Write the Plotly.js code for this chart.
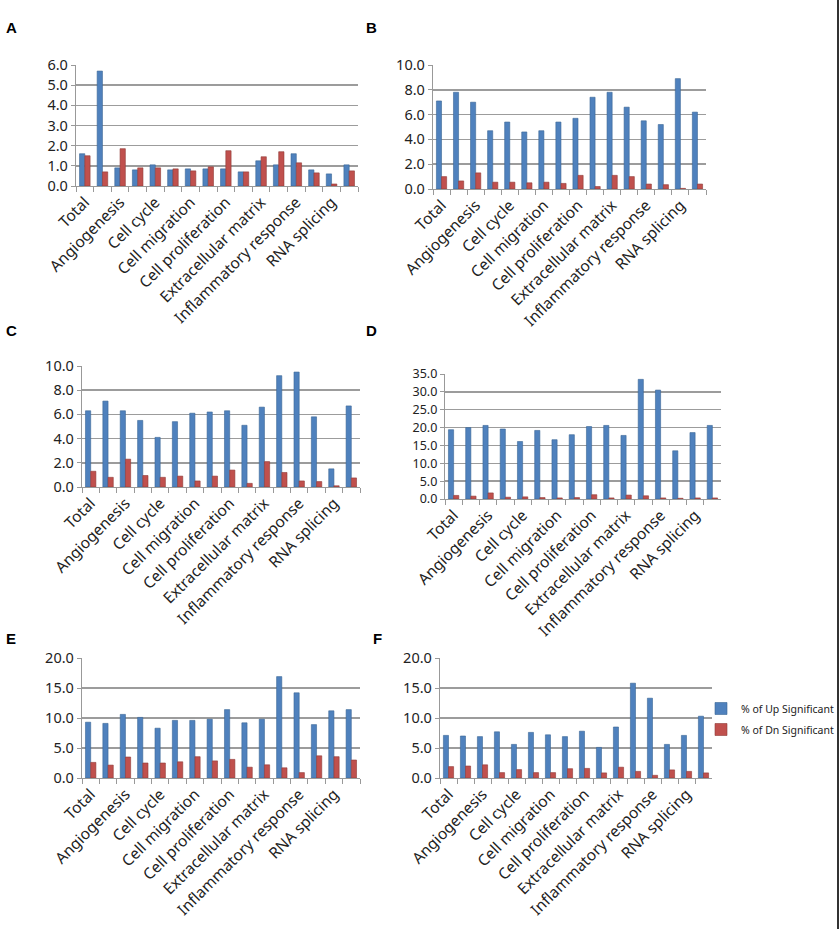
<!DOCTYPE html>
<html>
<head>
<meta charset="utf-8">
<script src="https://cdn.plot.ly/plotly-3.0.1.min.js"></script>
<style>html,body{margin:0;padding:0;background:#fff;overflow:hidden;}#chart{width:840px;height:929px;}</style>
</head>
<body>
<div id="chart"></div>
<script>
// categories (labels shown on every other category, as in the original)
const categories = ["Total","Aging","Angiogenesis","Apoptosis","Cell cycle","Cell differentiation",
  "Cell migration","Cell motility","Cell proliferation","Development","Extracellular matrix",
  "Immune response","Inflammatory response","Metabolism","RNA splicing","Transcription"];
const panelLetters = ["A","B","C","D","E","F"];
const upName = "% of Up Significant";
const dnName = "% of Dn Significant";

const upA = [1.6,5.7,0.9,0.8,1.05,0.8,0.85,0.85,0.85,0.7,1.25,1.05,1.6,0.8,0.6,1.05];
const dnA = [1.5,0.7,1.85,0.9,0.9,0.85,0.75,0.95,1.75,0.7,1.45,1.7,1.15,0.65,0.1,0.75];
const upB = [7.1,7.8,7.0,4.7,5.4,4.6,4.7,5.4,5.7,7.4,7.8,6.6,5.5,5.2,8.9,6.2];
const dnB = [1.0,0.65,1.3,0.55,0.55,0.5,0.55,0.45,1.1,0.2,1.1,1.0,0.4,0.35,0.05,0.4];
const upC = [6.3,7.1,6.3,5.5,4.1,5.4,6.1,6.2,6.3,5.1,6.6,9.2,9.5,5.8,1.5,6.7];
const dnC = [1.3,0.8,2.3,0.95,0.8,0.9,0.5,0.9,1.4,0.3,2.1,1.2,0.5,0.45,0.1,0.75];
const upD = [19.4,20.0,20.6,19.6,16.1,19.2,16.6,18.0,20.3,20.6,17.8,33.5,30.5,13.5,18.6,20.6];
const dnD = [1.0,0.8,1.7,0.5,0.6,0.4,0.3,0.4,1.2,0.3,1.1,0.9,0.3,0.2,0.3,0.3];
const upE = [9.3,9.1,10.6,10.1,8.3,9.6,9.6,9.8,11.4,9.2,9.8,16.9,14.2,8.9,11.2,11.4];
const dnE = [2.6,2.15,3.5,2.5,2.5,2.7,3.55,2.85,3.1,1.8,2.2,1.7,0.9,3.7,3.55,3.0];
const upF = [7.1,7.0,6.9,7.7,5.6,7.6,7.2,6.9,7.8,5.1,8.5,15.8,13.3,5.6,7.1,10.3];
const dnF = [1.9,2.0,2.2,0.9,1.4,0.9,0.9,1.55,1.6,0.85,1.8,1.1,0.45,1.35,1.1,0.85];

const ups = [upA,upB,upC,upD,upE,upF];
const dns = [dnA,dnB,dnC,dnD,dnE,dnF];
const yMax = [6,10,10,35,20,20];
const yStep = [1,2,2,5,5,5];

const W = 840, H = 929;
// plot boxes in pixels: [left, right, top, bottom]
const boxes = [
  [76,358,65,186],
  [433,706,65,189],
  [82,360,366,487],
  [445,721,374,499],
  [82,360,658,778],
  [440,712,658,778]
];
const yFont = [14.5,14.5,14.5,12.5,14.5,14.5];
const letterPos = [[11,28],[371,28],[11,330],[371,330],[11,638],[377,638]];

const blue = "#4F81BD", red = "#C0504D";
const data = [];
const layout = {
  width: W, height: H,
  margin: {l:0,r:0,t:0,b:0,autoexpand:false},
  paper_bgcolor: "#fff", plot_bgcolor: "#fff",
  barmode: "group", bargap: 0.4, bargroupgap: 0.0,
  font: {family: "Noto Sans, DejaVu Sans, sans-serif", color: "#222"},
  showlegend: true,
  legend: {x: 701/W, y: 1-694/H, xanchor: "left", yanchor: "top",
    font: {size: 10.5, family: "Noto Sans, sans-serif", color: "#222"},
    itemwidth: 30, tracegroupgap: 2, bgcolor: "rgba(0,0,0,0)", borderwidth: 0},
  annotations: [],
  shapes: [{type:"line", xref:"paper", yref:"paper", x0:838/W, x1:838/W, y0:0, y1:1,
    line:{color:"#333", width:2}}]
};

const ticktext = categories.map((c,i) => i % 2 === 0 ? c : "");

for (let p = 0; p < 6; p++) {
  const xs = p === 0 ? "x" : "x" + (p+1);
  const ys = p === 0 ? "y" : "y" + (p+1);
  const xk = p === 0 ? "xaxis" : "xaxis" + (p+1);
  const yk = p === 0 ? "yaxis" : "yaxis" + (p+1);
  const b = boxes[p];
  data.push({type:"bar", x: categories, y: ups[p], xaxis: xs, yaxis: ys, name: upName,
    marker:{color: blue, line:{color:"#3A6796", width:0.6}}, showlegend: p === 5, legendgroup:"up", hoverinfo:"y"});
  data.push({type:"bar", x: categories, y: dns[p], xaxis: xs, yaxis: ys, name: dnName,
    marker:{color: red, line:{color:"#8E3A38", width:0.6}}, showlegend: p === 5, legendgroup:"dn", hoverinfo:"y"});
  layout[xk] = {
    domain: [b[0]/W, b[1]/W], anchor: ys, type: "category",
    categoryorder: "array", categoryarray: categories,
    tickmode: "array", tickvals: categories, ticktext: ticktext,
    tickson: "boundaries", ticks: "outside", ticklen: 5, tickcolor: "#999",
    tickangle: -45, tickfont: {size: 15.5, color: "#222"},
    showline: true, linecolor: "#999", linewidth: 1.2, showgrid: false,
    fixedrange: true
  };
  layout[yk] = {
    domain: [1 - b[3]/H, 1 - b[2]/H], anchor: xs,
    range: [0, yMax[p]], dtick: yStep[p], tick0: 0, tickformat: ".1f",
    tickfont: {size: yFont[p], color: "#222"},
    showgrid: true, gridcolor: "#9c9c9c", gridwidth: 1.5,
    showline: true, linecolor: "#999", linewidth: 1.2,
    ticks: "outside", ticklen: 4, tickcolor: "#999",
    zeroline: false, fixedrange: true
  };
  layout.annotations.push({text: "<b>" + panelLetters[p] + "</b>", xref:"paper", yref:"paper",
    x: letterPos[p][0]/W, y: 1 - letterPos[p][1]/H, xanchor:"center", yanchor:"middle",
    showarrow:false, font:{family:"Liberation Sans, Arial, sans-serif", size:15, color:"#000"}});
}

Plotly.newPlot("chart", data, layout, {displayModeBar:false, staticPlot:true});
</script>
</body>
</html>
